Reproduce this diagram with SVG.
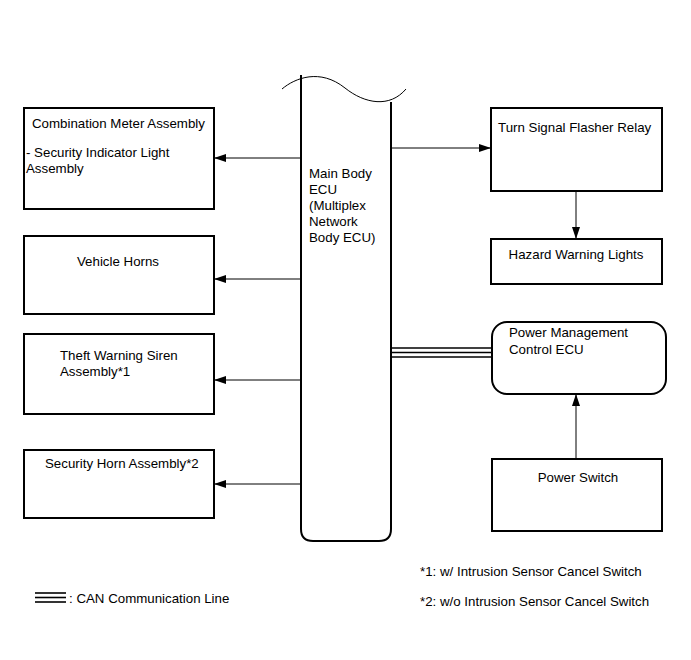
<svg xmlns="http://www.w3.org/2000/svg" width="691" height="660" viewBox="0 0 691 660">
<style>
text{font-family:"Liberation Sans",Arial,sans-serif;font-size:13.3px;fill:#000}
.box{fill:#fff;stroke:#000;stroke-width:2}
.ln{stroke:#000;stroke-width:1;fill:none}
.can{stroke:#000;stroke-width:1.6;fill:none}
</style>
<defs>
<marker id="ah" markerWidth="12" markerHeight="8" refX="12" refY="4" orient="auto" markerUnits="userSpaceOnUse">
<path d="M0,0 L12,4 L0,8 Z" fill="#000"/>
</marker>
</defs>
<rect width="691" height="660" fill="#fff"/>
<g id="ecu">
<path d="M301,75 L301,529 Q301,541 313,541 L379,541 Q391,541 391,529 L391,102" fill="#fff" stroke="#000" stroke-width="2"/>
<path d="M282,89 C295,78 320,68 345,88 C365,104 390,108 406,89" fill="none" stroke="#000" stroke-width="1"/>
<text x="309" y="178">Main Body</text>
<text x="309" y="194">ECU</text>
<text x="309" y="210">(Multiplex</text>
<text x="309" y="226">Network</text>
<text x="309" y="242">Body ECU)</text>
</g>
<g id="combination-meter">
<rect class="box" x="24" y="108" width="190" height="101"/>
<text x="32" y="128">Combination Meter Assembly</text>
<text x="26" y="157">- Security Indicator Light</text>
<text x="26" y="173">Assembly</text>
</g>
<g id="vehicle-horns">
<rect class="box" x="24" y="236" width="190" height="78"/>
<text x="118" y="266" text-anchor="middle">Vehicle Horns</text>
</g>
<g id="theft-siren">
<rect class="box" x="24" y="334" width="190" height="80"/>
<text x="60" y="360">Theft Warning Siren</text>
<text x="60" y="376">Assembly*1</text>
</g>
<g id="security-horn">
<rect class="box" x="24" y="450" width="190" height="68"/>
<text x="45" y="468">Security Horn Assembly*2</text>
</g>
<g id="flasher-relay">
<rect class="box" x="491" y="108" width="171" height="83"/>
<text x="498" y="132">Turn Signal Flasher Relay</text>
</g>
<g id="hazard-lights">
<rect class="box" x="491" y="239" width="171" height="45"/>
<text x="576" y="259" text-anchor="middle">Hazard Warning Lights</text>
</g>
<g id="power-mgmt">
<rect class="box" x="492" y="322" width="174" height="72" rx="15" ry="15"/>
<text x="509" y="337">Power Management</text>
<text x="509" y="354">Control ECU</text>
</g>
<g id="power-switch">
<rect class="box" x="492" y="459" width="170" height="72"/>
<text x="578" y="482" text-anchor="middle">Power Switch</text>
</g>
<g id="connectors">
<line class="ln" x1="301" y1="158" x2="214" y2="158" marker-end="url(#ah)"/>
<line class="ln" x1="301" y1="279" x2="214" y2="279" marker-end="url(#ah)"/>
<line class="ln" x1="301" y1="380" x2="214" y2="380" marker-end="url(#ah)"/>
<line class="ln" x1="301" y1="484" x2="214" y2="484" marker-end="url(#ah)"/>
<line class="ln" x1="391" y1="148" x2="491" y2="148" marker-end="url(#ah)"/>
<line class="ln" x1="576" y1="191" x2="576" y2="239" marker-end="url(#ah)"/>
<line class="ln" x1="576" y1="459" x2="576" y2="394" marker-end="url(#ah)"/>
<line class="can" x1="392" y1="348" x2="492" y2="348"/>
<line class="can" x1="392" y1="352.5" x2="492" y2="352.5"/>
<line class="can" x1="392" y1="357" x2="492" y2="357"/>
</g>
<g id="legend">
<line class="can" x1="35" y1="593" x2="66" y2="593"/>
<line class="can" x1="35" y1="597.5" x2="66" y2="597.5"/>
<line class="can" x1="35" y1="602" x2="66" y2="602"/>
<text x="69" y="603">: CAN Communication Line</text>
<text x="420" y="576">*1: w/ Intrusion Sensor Cancel Switch</text>
<text x="420" y="606">*2: w/o Intrusion Sensor Cancel Switch</text>
</g>
</svg>
